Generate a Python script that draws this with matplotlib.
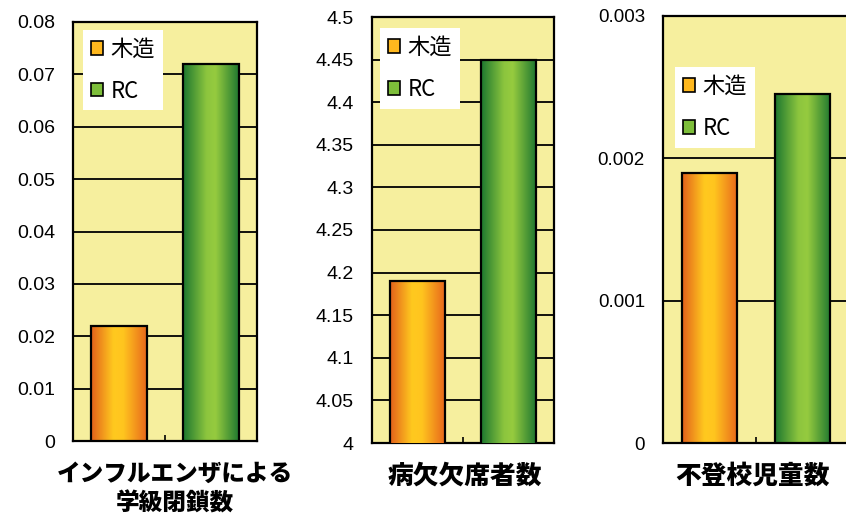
import numpy as np
import matplotlib
matplotlib.use("Agg")
import matplotlib.pyplot as plt
from matplotlib.colors import LinearSegmentedColormap
from matplotlib.patches import Patch

# ---- data ----
series = ["木造", "RC"]
titles = ["インフルエンザによる\n学級閉鎖数", "病欠欠席者数", "不登校児童数"]
vals_flu = [0.022, 0.072]
vals_sick = [4.19, 4.45]
vals_absent = [0.0019, 0.00245]
ticks_flu = [0, 0.01, 0.02, 0.03, 0.04, 0.05, 0.06, 0.07, 0.08]
ticklabels_flu = ["0", "0.01", "0.02", "0.03", "0.04", "0.05", "0.06", "0.07", "0.08"]
ticks_sick = [4, 4.05, 4.1, 4.15, 4.2, 4.25, 4.3, 4.35, 4.4, 4.45, 4.5]
ticklabels_sick = ["4", "4.05", "4.1", "4.15", "4.2", "4.25", "4.3", "4.35", "4.4", "4.45", "4.5"]
ticks_absent = [0, 0.001, 0.002, 0.003]
ticklabels_absent = ["0", "0.001", "0.002", "0.003"]

CJK = ["Noto Sans CJK JP", "DejaVu Sans"]
NUM = ["Liberation Sans", "DejaVu Sans"]
BG = "#F6EF9E"

cmap_or = LinearSegmentedColormap.from_list(
    "or", [(0, "#E2601B"), (0.4, "#FFC91F"), (0.58, "#FFC51F"), (1, "#E8681B")])
cmap_gr = LinearSegmentedColormap.from_list(
    "gr", [(0, "#1C772F"), (0.42, "#8CC53E"), (0.58, "#96CB3F"), (1, "#1F7830")])
fills = ["#FFB81E", "#7DBE3A"]

fig = plt.figure(figsize=(8.46, 5.16), dpi=100)
fig.patch.set_facecolor("white")

panels = [
    dict(pos=[73/846, 75/516, 184/846, 419/516], vals=vals_flu, ticks=ticks_flu,
         labels=ticklabels_flu, ylim=(0, 0.08), title=titles[0], tx=0.554, ty=-0.048,
         leg=(0.054, 0.981), fs=14, tfs=17),
    dict(pos=[372/846, 73/516, 182/846, 426/516], vals=vals_sick, ticks=ticks_sick,
         labels=ticklabels_sick, ylim=(4, 4.5), title=titles[1], tx=0.511, ty=-0.045,
         leg=(0.044, 0.974), fs=14, tfs=18.5),
    dict(pos=[663/846, 73/516, 186/846, 427/516], vals=vals_absent, ticks=ticks_absent,
         labels=ticklabels_absent, ylim=(0, 0.003), title=titles[2], tx=0.484, ty=-0.045,
         leg=(0.065, 0.88), fs=13.5, tfs=18.5),
]

xpos = [0.25, 0.75]
width = 0.30

for p in panels:
    ax = fig.add_axes(p["pos"])
    ax.set_facecolor(BG)
    ylo, yhi = p["ylim"]
    bars = ax.bar(xpos, p["vals"], width=width, facecolor="none", edgecolor="black",
                  linewidth=1.6, zorder=4)
    grad = np.linspace(0, 1, 256).reshape(1, -1)
    for b, cm in zip(bars, [cmap_or, cmap_gr]):
        x0 = b.get_x()
        im = ax.imshow(grad, cmap=cm, extent=[x0, x0 + b.get_width(), ylo, b.get_height()],
                       aspect="auto", zorder=3, interpolation="bicubic")
        im.set_clip_path(b)
    ax.set_xlim(0, 1)
    ax.set_ylim(ylo, yhi)
    ax.set_yticks(p["ticks"])
    ax.set_yticklabels(p["labels"], family=NUM)
    ax.yaxis.grid(True, color="black", linewidth=1.3)
    ax.set_axisbelow(True)
    ax.tick_params(axis="y", length=0, pad=13, labelsize=p["fs"])
    ax.set_xticks([0.5])
    ax.set_xticklabels([""])
    ax.tick_params(axis="x", direction="in", length=4, width=1.2)
    for s in ax.spines.values():
        s.set_linewidth(1.6)
        s.set_color("black")
    ax.text(p["tx"], p["ty"], p["title"], transform=ax.transAxes, ha="center", va="top",
            fontsize=p["tfs"], fontweight="heavy", family=CJK, linespacing=1.3)
    handles = [Patch(facecolor=fills[i], edgecolor="black", linewidth=1.2) for i in range(2)]
    leg = ax.legend(handles, series, loc="upper left", bbox_to_anchor=p["leg"],
                    prop={"family": CJK, "size": 16}, frameon=True, fancybox=False,
                    framealpha=1, edgecolor="none", facecolor="white",
                    handlelength=0.55, handleheight=0.55, handletextpad=0.35,
                    labelspacing=0.85, borderpad=0.35, borderaxespad=0)
    leg.set_zorder(6)

fig.savefig("out.png", dpi=100, facecolor="white")
